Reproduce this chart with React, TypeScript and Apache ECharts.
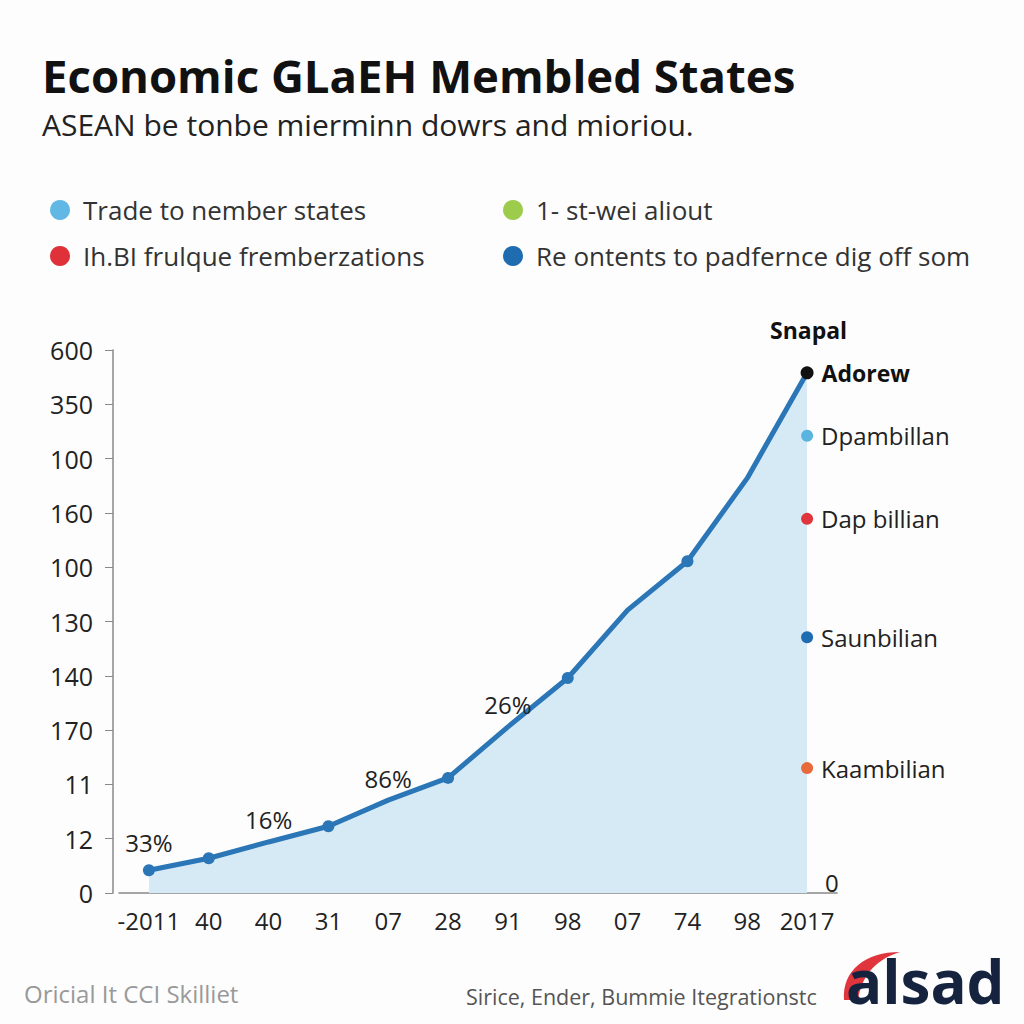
import React, { useEffect, useRef } from "react";
import * as echarts from "echarts";

const years = ["-2011", "40", "40", "31", "07", "28", "91", "98", "07", "74", "98", "2017"];
const tradeValues = [0.42, 0.64, 0.94, 1.23, 1.71, 2.12, 3.06, 3.96, 5.21, 6.11, 7.64, 9.58];
const pointLabels = ["33%", "", "16%", "", "86%", "", "26%", "", "", "", "", ""];
const markerShown = [true, true, false, true, false, true, false, true, false, true, false, true];
const yTickLabels = ["0", "12", "11", "170", "140", "130", "100", "160", "100", "350", "600"];

const annotNames = ["Dpambillan", "Dap billian", "Saunbilian", "Kaambilian"];
const annotValues = [8.42, 6.89, 4.71, 2.3];
const annotColors = ["#5ab4e0", "#e0353c", "#1f6db0", "#e8693a"];

const legendLeft = ["Trade to nember states", "Ih.BI frulque fremberzations"];
const legendRight = ["1- st-wei aliout", "Re ontents to padfernce dig off som"];
const legendColors: Record<string, string> = {
  "Trade to nember states": "#62b8e4",
  "Ih.BI frulque fremberzations": "#e0303a",
  "1- st-wei aliout": "#9dcb4c",
  "Re ontents to padfernce dig off som": "#1f6db0",
};

const FONT = "'Open Sans', 'Noto Sans', sans-serif";

export default function App() {
  const ref = useRef<HTMLDivElement>(null);
  useEffect(() => {
    if (!ref.current) return;
    const Swoosh = (echarts.graphic as any).extendPath(
      "M4 50 C2 20 26 2 60 2 C40 8 22 22 18 50 Z",
      {}
    );
    echarts.graphic.registerShape("swoosh", Swoosh);
    const chart = echarts.init(ref.current, null, { renderer: "svg" });

    const lineData = tradeValues.map((v, i) => {
      const isLast = i === tradeValues.length - 1;
      const item: any = {
        value: v,
        symbol: "circle",
        symbolSize: markerShown[i] ? (isLast ? 13 : 12) : 0,
        itemStyle: isLast ? { color: "#111" } : undefined,
      };
      if (pointLabels[i]) {
        item.label = {
          show: true,
          position: "top",
          distance: 10,
          formatter: pointLabels[i],
          fontSize: 24,
          color: "#222",
          fontFamily: FONT,
        };
      }
      if (isLast) {
        item.label = {
          show: true,
          position: "right",
          distance: 8,
          formatter: "Adorew",
          fontSize: 23,
          fontWeight: "bold",
          color: "#111",
          fontFamily: FONT,
        };
      }
      return item;
    });

    const legendSeries = [...legendLeft, ...legendRight].map((n) => ({
      name: n,
      type: "scatter",
      data: [],
      itemStyle: { color: legendColors[n], opacity: 1 },
    }));

    const legendCommon = {
      orient: "vertical",
      icon: "circle",
      itemWidth: 20,
      itemHeight: 20,
      itemGap: 20,
      textStyle: { fontSize: 26, color: "#333", fontFamily: FONT, padding: [0, 0, 0, 8] },
    };

    chart.setOption({
      animation: false,
      backgroundColor: "#fdfdfd",
      textStyle: { fontFamily: FONT },
      grid: { left: 119, right: 187, top: 350, bottom: 131, containLabel: false },
      xAxis: {
        type: "category",
        data: years,
        boundaryGap: true,
        axisLine: { lineStyle: { color: "#888", width: 1.5 } },
        axisTick: { alignWithLabel: true, length: 7, lineStyle: { color: "#888" } },
        axisLabel: { fontSize: 24, color: "#222", margin: 15, fontFamily: FONT, interval: 0 },
      },
      yAxis: {
        type: "value",
        min: 0,
        max: 10,
        interval: 1,
        offset: 6,
        splitLine: { show: false },
        axisLine: { show: true, lineStyle: { color: "#888", width: 1.5 } },
        axisTick: { show: true, length: 8, lineStyle: { color: "#888" } },
        axisLabel: {
          fontSize: 25,
          color: "#222",
          margin: 20,
          fontFamily: FONT,
          formatter: (v: number) => yTickLabels[Math.round(v)] ?? "",
        },
      },
      legend: [
        { ...legendCommon, data: legendLeft, left: 45, top: 192 },
        { ...legendCommon, data: legendRight, left: 498, top: 192 },
      ],
      series: [
        {
          name: "trade",
          type: "line",
          data: lineData,
          lineStyle: { color: "#2a76b6", width: 5 },
          itemStyle: { color: "#2a76b6" },
          areaStyle: { color: "#d6eaf6", opacity: 1 },
          z: 3,
        },
        {
          name: "annot",
          type: "scatter",
          data: annotValues.map((v, i) => ({
            value: [years.length - 1, v],
            itemStyle: { color: annotColors[i], opacity: 1 },
            label: {
              show: true,
              position: "right",
              distance: 8,
              formatter: annotNames[i],
              fontSize: 24,
              color: "#222",
              fontFamily: FONT,
            },
          })),
          symbolSize: 12,
          z: 4,
        },
        ...legendSeries,
      ],
      graphic: [
        {
          type: "text",
          left: 42,
          top: 52,
          style: {
            text: "Economic GLaEH Membled States",
            fontSize: 45.5,
            fontWeight: "bold",
            fill: "#111",
            fontFamily: FONT,
          },
        },
        {
          type: "text",
          left: 42,
          top: 109,
          style: {
            text: "ASEAN be tonbe mierminn dowrs and mioriou.",
            fontSize: 30,
            fill: "#222",
            fontFamily: FONT,
          },
        },
        {
          type: "text",
          left: 770,
          top: 318,
          style: { text: "Snapal", fontSize: 23, fontWeight: "bold", fill: "#111", fontFamily: FONT },
        },
        {
          type: "text",
          left: 825,
          top: 870,
          style: { text: "0", fontSize: 24, fill: "#222", fontFamily: FONT },
        },
        {
          type: "text",
          left: 24,
          top: 981,
          style: { text: "Oricial It CCI Skilliet", fontSize: 24, fill: "#999", fontFamily: FONT },
        },
        {
          type: "text",
          left: 466,
          top: 985,
          style: { text: "Sirice, Ender, Bummie Itegrationstc", fontSize: 21.5, fill: "#555", fontFamily: FONT },
        },
        {
          type: "swoosh",
          x: 840,
          y: 950,
          style: { fill: "#e0353c" },
        },
        {
          type: "text",
          left: 846,
          top: 951,
          style: {
            text: "alsad",
            fontSize: 60,
            fontWeight: "bold",
            fill: "#15233f",
            fontFamily: FONT,
          },
        },
      ],
    });
    return () => chart.dispose();
  }, []);
  return <div ref={ref} style={{ width: 1024, height: 1024, position: "absolute", left: 0, top: 0 }} />;
}
